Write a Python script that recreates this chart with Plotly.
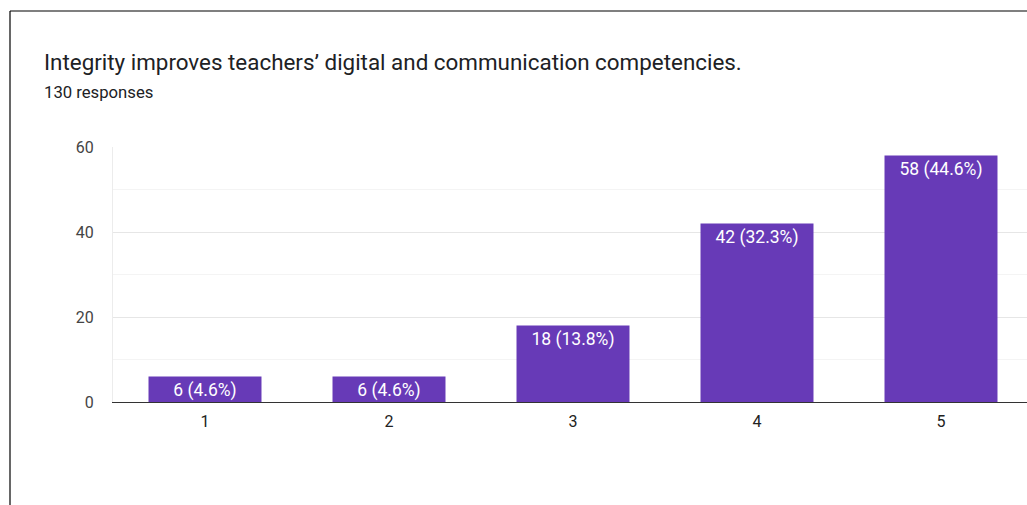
import plotly.graph_objects as go

# Survey item: Likert-scale answers (1-5) and their response counts
scale_points = [1, 2, 3, 4, 5]
counts = [6, 6, 18, 42, 58]
total_responses = 130
question = "Integrity improves teachers\u2019 digital and communication competencies."
y_ticks = [0, 20, 40, 60]

bar_labels = [f"{c} ({c / total_responses * 100:.1f}%)" for c in counts]

FONT = "Roboto, Arial, sans-serif"
LABEL_SIZE = 17.5
W, H = 1027, 505
L, R, T, B = 113, 0, 147, 103
plot_w = W - L - R
plot_h = H - T - B


def px_x(px):
    return (px - L) / plot_w


def px_y(py):
    return (H - B - py) / plot_h


fig = go.Figure(
    go.Bar(
        x=scale_points,
        y=counts,
        width=0.614,
        marker=dict(color="#673ab7", line=dict(width=0)),
        text=bar_labels,
        textposition="inside",
        insidetextanchor="end",
        textangle=0,
        textfont=dict(color="#ffffff", size=LABEL_SIZE, family=FONT),
        cliponaxis=False,
    )
)

# Card border on the top and left edges
fig.add_shape(type="line", xref="paper", yref="paper",
              x0=px_x(10), x1=px_x(1040), y0=px_y(11), y1=px_y(11),
              line=dict(color="#000000", width=1.2))
fig.add_shape(type="line", xref="paper", yref="paper",
              x0=px_x(10), x1=px_x(10), y0=px_y(11), y1=px_y(520),
              line=dict(color="#000000", width=1.2))

fig.add_annotation(text=question, xref="paper", yref="paper",
                   x=px_x(42), y=px_y(62), xanchor="left", yanchor="middle",
                   showarrow=False,
                   font=dict(size=22.4, color="#202124", family=FONT))
fig.add_annotation(text=f"{total_responses} responses", xref="paper", yref="paper",
                   x=px_x(42), y=px_y(92), xanchor="left", yanchor="middle",
                   showarrow=False,
                   font=dict(size=16.7, color="#202124", family=FONT))

fig.update_layout(
    width=W,
    height=H,
    margin=dict(l=L, r=R, t=T, b=B, pad=0),
    paper_bgcolor="#ffffff",
    plot_bgcolor="#ffffff",
    showlegend=False,
    uniformtext=dict(mode="show", minsize=LABEL_SIZE),
    font=dict(family=FONT, color="#444444"),
    xaxis=dict(
        range=[0.5, 0.5 + plot_w / 184],
        tickvals=scale_points,
        ticktext=[str(v) for v in scale_points],
        showgrid=False,
        zeroline=False,
        showline=True,
        linecolor="#333333",
        linewidth=1,
        ticks="outside",
        ticklen=5,
        tickcolor="rgba(0,0,0,0)",
        tickfont=dict(size=16, color="#222222"),
    ),
    yaxis=dict(
        range=[0, 60],
        tickvals=y_ticks,
        showgrid=True,
        gridcolor="#e6e6e6",
        gridwidth=1,
        minor=dict(dtick=10, tick0=0, showgrid=True, gridcolor="#f4f4f4", gridwidth=1),
        zeroline=False,
        showline=True,
        linecolor="#ececec",
        linewidth=1,
        ticks="outside",
        ticklen=15,
        tickcolor="rgba(0,0,0,0)",
        tickfont=dict(size=16, color="#444444"),
    ),
)

fig.write_html("out.html")
